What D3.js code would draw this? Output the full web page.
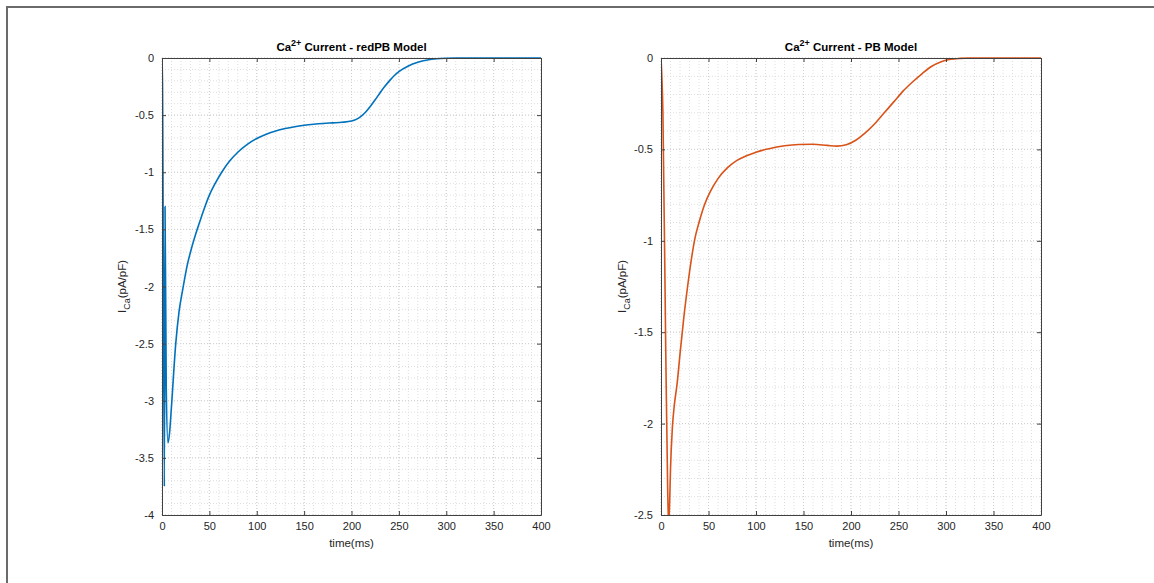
<!DOCTYPE html>
<html>
<head>
<meta charset="utf-8">
<script src="https://cdn.jsdelivr.net/npm/d3@7"></script>
<style>
  body { margin: 0; background: #fff; }
  svg { font-family: "Liberation Sans", Arial, sans-serif; }
</style>
</head>
<body>
<svg id="chart"></svg>
<script>
// redPB model, time (ms) and I_Ca (pA/pF)
var redTime = [0, 0.5, 2.5, 3.2, 4.5, 6.3, 8, 10, 14.5, 18, 22, 27, 31, 36, 42, 50, 56, 63, 72, 80, 90, 100, 110, 120, 130, 140, 150, 160, 170, 180, 190, 200, 205, 210, 215, 220, 225, 230, 235, 240, 245, 250, 260, 270, 280, 290, 300, 310, 400];
var redCa = [0, -0.2, -3.75, -1.3, -2.9, -3.37, -3.28, -3.05, -2.5, -2.22, -2.02, -1.8, -1.67, -1.53, -1.38, -1.2, -1.1, -1.0, -0.896, -0.825, -0.756, -0.705, -0.667, -0.638, -0.617, -0.601, -0.589, -0.58, -0.573, -0.568, -0.563, -0.552, -0.537, -0.51, -0.472, -0.422, -0.366, -0.306, -0.25, -0.2, -0.155, -0.12, -0.07, -0.038, -0.018, -0.007, -0.002, 0, 0];

// PB model
var pbTime = [0, 2, 5, 7, 8, 9, 10, 12, 14, 17, 20, 24, 28, 32, 36, 40, 46, 52, 60, 70, 80, 90, 100, 115, 130, 145, 160, 175, 185, 195, 205, 215, 225, 235, 245, 255, 265, 275, 285, 295, 305, 315, 325, 400];
var pbCa = [0, -0.3, -1.6, -2.35, -2.55, -2.45, -2.25, -2.02, -1.9, -1.78, -1.62, -1.42, -1.25, -1.1, -0.98, -0.9, -0.8, -0.73, -0.66, -0.6, -0.56, -0.535, -0.515, -0.495, -0.48, -0.473, -0.472, -0.478, -0.482, -0.475, -0.45, -0.41, -0.36, -0.3, -0.24, -0.18, -0.13, -0.085, -0.045, -0.02, -0.007, -0.002, 0, 0];

var xTicks = [0, 50, 100, 150, 200, 250, 300, 350, 400];
var redTicks = [0, -0.5, -1, -1.5, -2, -2.5, -3, -3.5, -4];
var pbTicks = [0, -0.5, -1, -1.5, -2, -2.5];

var w = 1154, h = 583;
var svg = d3.select("#chart").attr("width", w).attr("height", h);

// outer frame
svg.append("path")
  .attr("d", "M7," + h + "V7H" + w)
  .attr("fill", "none")
  .attr("stroke", "#6b6b6b")
  .attr("stroke-width", 2);

function panel(opt) {
  var x = d3.scaleLinear().domain([0, 400]).range([opt.left, opt.right]);
  var y = d3.scaleLinear().domain([opt.ymin, 0]).range([opt.bottom, opt.top]);
  var g = svg.append("g");

  // minor grid
  var xMinor = d3.range(0, 401, 10), yMinor = d3.range(opt.ymin, 0.0001, 0.1);
  g.selectAll(null).data(xMinor).enter().append("line")
    .attr("x1", d => x(d)).attr("x2", d => x(d))
    .attr("y1", opt.top).attr("y2", opt.bottom)
    .attr("stroke", "#dedede").attr("stroke-width", 1).attr("stroke-dasharray", "1,2");
  g.selectAll(null).data(yMinor).enter().append("line")
    .attr("y1", d => y(d)).attr("y2", d => y(d))
    .attr("x1", opt.left).attr("x2", opt.right)
    .attr("stroke", "#dedede").attr("stroke-width", 1).attr("stroke-dasharray", "1,2");
  // major grid
  g.selectAll(null).data(xTicks).enter().append("line")
    .attr("x1", d => x(d)).attr("x2", d => x(d))
    .attr("y1", opt.top).attr("y2", opt.bottom)
    .attr("stroke", "#cfcfcf").attr("stroke-width", 1).attr("stroke-dasharray", "1,2");
  g.selectAll(null).data(opt.ticks).enter().append("line")
    .attr("y1", d => y(d)).attr("y2", d => y(d))
    .attr("x1", opt.left).attr("x2", opt.right)
    .attr("stroke", "#cfcfcf").attr("stroke-width", 1).attr("stroke-dasharray", "1,2");

  // curve
  var clipId = "clip" + opt.id;
  svg.append("clipPath").attr("id", clipId).append("rect")
    .attr("x", opt.left).attr("y", opt.top - 2)
    .attr("width", opt.right - opt.left).attr("height", opt.bottom - opt.top + 2);
  var pts = opt.t.map((t, i) => [t, opt.v[i]]);
  g.append("path")
    .datum(pts)
    .attr("clip-path", "url(#" + clipId + ")")
    .attr("d", d3.line().x(d => x(d[0])).y(d => y(d[1])).curve(d3.curveMonotoneX))
    .attr("fill", "none")
    .attr("stroke", opt.color)
    .attr("stroke-width", 1.6);

  // axes
  var ax = "#404040";
  g.append("g").attr("transform", "translate(0," + opt.bottom + ")")
    .call(d3.axisBottom(x).tickValues(xTicks).tickSizeInner(-4).tickSizeOuter(0).tickPadding(7))
    .call(s => s.select(".domain").attr("stroke", ax))
    .call(s => s.selectAll(".tick line").attr("stroke", ax))
    .call(s => s.selectAll("text").attr("fill", "#262626").attr("font-size", 11).attr("font-family", "Liberation Sans, Arial"));
  g.append("g").attr("transform", "translate(0," + opt.top + ")")
    .call(d3.axisTop(x).tickValues(xTicks).tickSizeInner(-4).tickSizeOuter(0).tickFormat(""))
    .call(s => s.selectAll("path, line").attr("stroke", ax));
  g.append("g").attr("transform", "translate(" + opt.left + ",0)")
    .call(d3.axisLeft(y).tickValues(opt.ticks).tickSizeInner(-4).tickSizeOuter(0).tickPadding(8).tickFormat(d => String(d)))
    .call(s => s.select(".domain").attr("stroke", ax))
    .call(s => s.selectAll(".tick line").attr("stroke", ax))
    .call(s => s.selectAll("text").attr("fill", "#262626").attr("font-size", 11).attr("font-family", "Liberation Sans, Arial"));
  g.append("g").attr("transform", "translate(" + opt.right + ",0)")
    .call(d3.axisRight(y).tickValues(opt.ticks).tickSizeInner(-4).tickSizeOuter(0).tickFormat(""))
    .call(s => s.selectAll("path, line").attr("stroke", ax));

  var cx = (opt.left + opt.right) / 2;
  // title
  var t = g.append("text").attr("x", cx).attr("y", 51)
    .attr("text-anchor", "middle").attr("font-size", 11.5).attr("font-weight", "bold").attr("fill", "#000");
  t.append("tspan").text("Ca");
  t.append("tspan").attr("dy", -5).attr("font-size", 9).text("2+");
  t.append("tspan").attr("dy", 5).text(" Current - " + opt.name + " Model");

  // x label
  g.append("text").attr("x", cx).attr("y", 547)
    .attr("text-anchor", "middle").attr("font-size", 11.5).attr("fill", "#262626")
    .text("time(ms)");

  // y label
  var yl = g.append("text")
    .attr("transform", "translate(" + opt.ylx + "," + ((opt.top + opt.bottom) / 2) + ") rotate(-90)")
    .attr("text-anchor", "middle").attr("font-size", 11.5).attr("fill", "#262626");
  yl.append("tspan").text("I");
  yl.append("tspan").attr("dy", 4).attr("font-size", 9).text("Ca");
  yl.append("tspan").attr("dy", -4).text("(pA/pF)");
}

panel({ id: "a", left: 162, right: 541, top: 58, bottom: 515, ymin: -4, ticks: redTicks,
        t: redTime, v: redCa, color: "#0072BD", name: "redPB", ylx: 126 });
panel({ id: "b", left: 661, right: 1041, top: 58, bottom: 515, ymin: -2.5, ticks: pbTicks,
        t: pbTime, v: pbCa, color: "#D95319", name: "PB", ylx: 626 });
</script>
</body>
</html>
